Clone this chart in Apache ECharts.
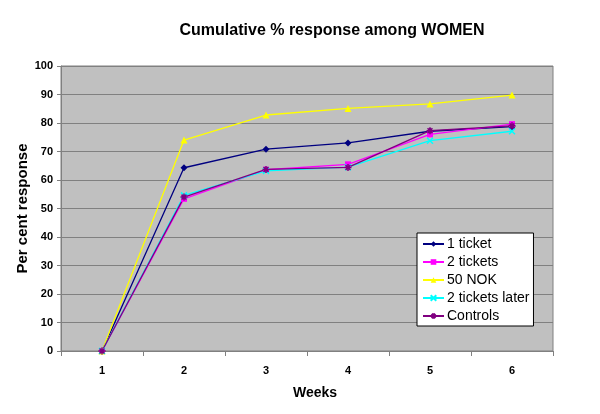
<!DOCTYPE html>
<html><head><meta charset="utf-8">
<script src="https://cdn.jsdelivr.net/npm/echarts@6/dist/echarts.min.js"></script>
<style>html,body{margin:0;padding:0;background:#fff}#c{width:600px;height:414px}</style>
</head><body><div id="c"></div>
<script>
var weeks = ['1','2','3','4','5','6'];
var oneTicket = [0, 64.3, 70.8, 73.0, 77.1, 78.7];
var twoTickets = [0, 53.4, 63.6, 65.5, 76.0, 79.6];
var nok50 = [0, 74.0, 82.8, 85.1, 86.7, 89.8];
var twoTicketsLater = [0, 54.6, 63.2, 64.5, 73.8, 77.1];
var controls = [0, 54.0, 63.7, 64.4, 77.3, 79.0];
var yTicks = [0,10,20,30,40,50,60,70,80,90,100];

var font = 'Liberation Sans, Arial, sans-serif';
var xPath = 'path://M0,0L10,10M10,0L0,10';
var starPath = 'path://M5,0L5,10M0,5L10,5M1.5,1.5L8.5,8.5M8.5,1.5L1.5,8.5';
function mk(name, data, color, symbol, size, stroke) {
  var s = {
    name: name, type: 'line', data: data, symbol: symbol, symbolSize: size,
    lineStyle: {color: color, width: 1.3},
    itemStyle: {color: color},
    emphasis: {disabled: true}
  };
  if (stroke) { s.itemStyle = {color: 'none', borderColor: color, borderWidth: 1.5}; }
  return s;
}
var chart = echarts.init(document.getElementById('c'));
chart.setOption({
  animation: false,
  title: {text: 'Cumulative % response among WOMEN', left: 327, top: 18, textAlign: 'center',
    textStyle: {fontFamily: font, fontSize: 16, fontWeight: 'bold', color: '#000'}},
  grid: {left: 61, right: 47, top: 66, bottom: 63, show: true, backgroundColor: '#C0C0C0', borderColor: '#808080', borderWidth: 1},
  legend: {
    orient: 'vertical', left: 417, top: 233, width: 118,
    backgroundColor: '#fff', borderColor: '#000', borderWidth: 1,
    padding: [3, 4, 2, 5], itemGap: 2, itemWidth: 21, itemHeight: 7,
    textStyle: {fontFamily: font, fontSize: 14, color: '#000', padding: [0, 0, 0, -2], lineHeight: 16},
    data: ['1 ticket', '2 tickets', '50 NOK', '2 tickets later', 'Controls']
  },
  xAxis: {
    type: 'category', data: weeks, boundaryGap: true,
    name: 'Weeks', nameLocation: 'middle', nameGap: 35,
    nameTextStyle: {fontFamily: font, fontSize: 14, fontWeight: 'bold', color: '#000', padding: [0, 0, 0, 16]},
    axisLine: {lineStyle: {color: '#808080'}},
    axisTick: {show: true, length: 5, lineStyle: {color: '#808080'}},
    axisLabel: {fontFamily: font, fontSize: 11, fontWeight: 'bold', color: '#000', margin: 14}
  },
  yAxis: {
    type: 'value', min: 0, max: 100, interval: 10,
    name: 'Per cent response', nameLocation: 'middle', nameGap: 31, nameRotate: 90,
    nameMoveOverlap: false,
    nameTextStyle: {fontFamily: font, fontSize: 15, fontWeight: 'bold', color: '#000'},
    axisLine: {show: true, lineStyle: {color: '#808080'}},
    axisTick: {show: true, length: 4, lineStyle: {color: '#808080'}},
    splitLine: {lineStyle: {color: '#808080', width: 1}},
    axisLabel: {fontFamily: font, fontSize: 11, fontWeight: 'bold', color: '#000', margin: 8,
      formatter: function (v) { return yTicks.indexOf(v) >= 0 ? String(v) : ''; }}
  },
  series: [
    mk('1 ticket', oneTicket, '#000080', 'diamond', 7),
    mk('2 tickets', twoTickets, '#FF00FF', 'rect', 6),
    mk('50 NOK', nok50, '#FFFF00', 'triangle', 7),
    mk('2 tickets later', twoTicketsLater, '#00FFFF', xPath, 6, true),
    mk('Controls', controls, '#800080', starPath, 7, true)
  ]
});
</script></body></html>
